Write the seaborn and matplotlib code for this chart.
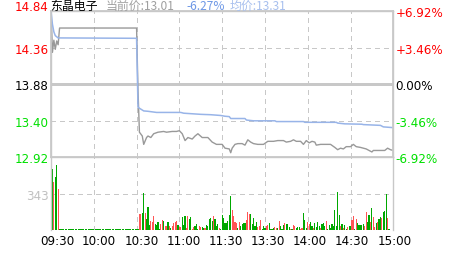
import matplotlib
matplotlib.use("Agg")
import matplotlib.pyplot as plt
import matplotlib.transforms as mtrans
import seaborn as sns

# ---------------- data ----------------
title_name = "东晶电子"
title_cur = "当前价:13.01"
title_pct = "-6.27%"
title_avg = "均价:13.31"

price_ticks = [12.92, 13.40, 13.88, 14.36, 14.84]
price_labels = ["12.92", "13.40", "13.88", "14.36", "14.84"]
pct_labels = ["-6.92%", "-3.46%", "0.00%", "+3.46%", "+6.92%"]
tick_colors = ["#00e000", "#00e000", "#000000", "#ff0000", "#ff0000"]

time_ticks = [0, 30, 60, 90, 120, 150, 180, 210, 240]
time_labels = ["09:30", "10:00", "10:30", "11:00", "11:30", "13:30", "14:00", "14:30", "15:00"]

price_min = [0, 1, 2, 3, 4, 5, 6, 60, 61, 62, 64, 65, 67, 68, 70, 72, 75, 79, 81, 85, 88, 90,
             92, 94, 96, 99, 101, 103, 106, 110, 113, 116, 120, 122, 125, 126, 127, 129, 131,
             134, 136, 138, 140, 142, 145, 149, 152, 156, 159, 163, 165, 168, 170, 172, 175,
             177, 179, 181, 183, 185, 186, 189, 192, 196, 199, 201, 203, 205, 207, 210, 212,
             214, 217, 219, 221, 223, 225, 226, 229, 232, 234, 236, 238, 240]
price_val = [14.84, 14.30, 14.46, 14.34, 14.45, 14.40, 14.62, 14.62, 13.80, 13.25, 13.20, 13.09,
             13.18, 13.20, 13.18, 13.23, 13.25, 13.26, 13.25, 13.26, 13.26, 13.27, 13.23, 13.14,
             13.18, 13.16, 13.20, 13.23, 13.18, 13.18, 13.12, 13.09, 13.09, 13.04, 13.03, 12.98,
             13.04, 13.09, 13.10, 13.10, 13.08, 13.15, 13.12, 13.10, 13.09, 13.09, 13.13, 13.13,
             13.14, 13.14, 13.12, 13.13, 13.15, 13.13, 13.13, 13.09, 13.14, 13.11, 13.13, 13.12,
             13.08, 13.09, 13.09, 13.09, 13.05, 13.02, 13.04, 13.03, 13.06, 13.06, 13.09, 13.06,
             13.05, 13.04, 13.03, 13.01, 12.99, 13.01, 13.01, 13.01, 13.01, 13.04, 13.02, 13.01]

avg_min = [0, 1, 2, 3, 5, 60, 61, 62, 65, 68, 74, 91, 93, 105, 112, 119, 122, 125, 126, 136,
           137, 142, 157, 158, 177, 178, 200, 201, 206, 218, 219, 231, 233, 240]
avg_val = [14.84, 14.67, 14.57, 14.52, 14.49, 14.485, 13.58, 13.565, 13.53, 13.525, 13.51, 13.51,
           13.50, 13.485, 13.48, 13.47, 13.46, 13.455, 13.43, 13.43, 13.41, 13.40, 13.40, 13.39,
           13.39, 13.38, 13.38, 13.37, 13.36, 13.355, 13.35, 13.34, 13.32, 13.31]

vol_open = [700, 576, 457, 504, 614, 388]
vol_halt = [10] * 56
vol_morning = [153, 153, 162, 350, 162, 106, 216, 50, 90, 81,
               134, 59, 50, 78, 12, 59, 100, 90, 43, 43,
               78, 37, 21, 37, 68, 78, 90, 50, 28, 28,
               122, 50, 131, 21, 131, 106, 125, 12, 34, 43,
               59, 12, 43, 28, 28, 25, 18, 50, 37, 106,
               115, 90, 134, 106, 43, 56, 25, 12, 144, 115,
               68, 68, 90, 144, 322, 191, 137, 81, 68, 21,
               78, 43, 59, 68, 68, 97, 172, 153, 156, 59,
               115, 37, 81, 28, 37]
vol_afternoon = [97, 12, 37, 18, 37, 50, 68, 12, 12, 18,
                 28, 21, 25, 87, 37, 12, 50, 68, 56, 59,
                 28, 12, 12, 50, 37, 25, 28, 28, 12, 18,
                 162, 97, 18, 75, 59, 81, 37, 21, 68, 28,
                 75, 37, 21, 59, 68, 37, 87, 12, 50, 18,
                 59, 43, 194, 37, 363, 144, 37, 59, 18, 50,
                 12, 28, 43, 43, 100, 137, 12, 106, 68, 50,
                 50, 50, 59, 43, 172, 81, 144, 78, 209, 122,
                 28, 68, 81, 106, 122, 115, 169, 181, 344, 112,
                 12, 6, 3, 209]
col_open = "kgrggr"
col_halt = "g" * 56
col_morning = ("rrggrgggrr" "rggggrrgrr" "grgrrrrgrr" "gggrrggrrg" "ggrrggrggg"
               "ggrgggrggg" "gggggrrrrg" "rggggrrrgg" "gggrr")
col_afternoon = ("rgggrrgggg" "rrgrgggrgg" "grgrrgggrr" "gggrrggrgg" "ggrgggrggg"
                 "ggggggrgrg" "grggrrgrgg" "gggrrggrgr" "rgrggrgggr" "gggg")

volume = vol_open + vol_halt + vol_morning + vol_afternoon
vol_colors = col_open + col_halt + col_morning + col_afternoon
minutes = list(range(len(volume)))
vol_ticks = [343]
vol_max = 686

# ---------------- style ----------------
sns.set_theme(style="white")
plt.rcParams["font.family"] = ["DejaVu Sans"]
FS = 8.6
GRID = "#c8c8c8"
color_map = {"r": "#ff5555", "g": "#00a800", "k": "#000000"}

W, H = 463, 255
fig = plt.figure(figsize=(W / 100, H / 100), dpi=100)
fig.patch.set_facecolor("white")
L, R = 51, 393.3
top_p, bot_p, bot_v = 12.3, 158.3, 231.3
ax = fig.add_axes([L / W, 1 - bot_p / H, (R - L) / W, (bot_p - top_p) / H])
axv = fig.add_axes([L / W, 1 - bot_v / H, (R - L) / W, (bot_v - bot_p) / H])

for a in (ax, axv):
    a.set_facecolor("white")
    a.set_xlim(0, 240)
    for s in a.spines.values():
        s.set_color(GRID)
        s.set_linewidth(1)
    for t in time_ticks[1:-1]:
        a.axvline(t, color=GRID, lw=1, ls=(0, (3, 3)), zorder=0, antialiased=False)

# price panel
ax.set_ylim(price_ticks[0], price_ticks[-1])
for v, lbl in zip(price_ticks[1:-1], price_labels[1:-1]):
    ax.axhline(v, color=GRID, lw=1, ls="-" if lbl == "13.88" else (0, (3, 3)), zorder=0,
               antialiased=False)
sns.lineplot(x=price_min, y=price_val, ax=ax, color="#999999", lw=1, estimator=None, zorder=3)
sns.lineplot(x=avg_min, y=avg_val, ax=ax, color="#98b4e8", lw=1.1, estimator=None, zorder=4)
ax.set_xticks([])
ax.set_xlabel("")
ax.set_ylabel("")
ax.set_yticks(price_ticks)
ax.set_yticklabels(price_labels)
ax.tick_params(axis="y", length=0, pad=1.5, labelsize=FS)
for lab, c in zip(ax.get_yticklabels(), tick_colors):
    lab.set_color(c)
top_lab = ax.get_yticklabels()[-1]
top_lab.set_transform(top_lab.get_transform() +
                      mtrans.ScaledTranslation(0, 6.5 / 100, fig.dpi_scale_trans))

axr = ax.twinx()
axr.set_ylim(price_ticks[0], price_ticks[-1])
axr.set_yticks(price_ticks)
axr.set_yticklabels(pct_labels)
axr.tick_params(axis="y", length=0, pad=1.5, labelsize=FS)
for lab, c in zip(axr.get_yticklabels(), tick_colors):
    lab.set_color(c)
for s in axr.spines.values():
    s.set_color(GRID)
axr.grid(False)

# volume panel
axv.set_ylim(0, vol_max)
axv.axhline(vol_ticks[0], color=GRID, lw=1, ls=(0, (3, 3)), zorder=0, antialiased=False)
axv.bar(minutes, volume, width=0.8, color=[color_map[c] for c in vol_colors], linewidth=0,
        zorder=2, antialiased=False)
axv.spines["bottom"].set_visible(False)
axv.set_yticks(vol_ticks)
axv.set_yticklabels([str(v) for v in vol_ticks])
axv.tick_params(axis="y", length=0, pad=1.5, labelsize=FS, labelcolor="#c0c0c0")
axv.set_xticks(time_ticks)
axv.set_xticklabels(time_labels)
axv.tick_params(axis="x", length=0, pad=3, labelsize=FS, labelcolor="#000000")
for i, lab in enumerate(axv.get_xticklabels()):
    dx = (6 - 0.625 * i) / 100
    lab.set_transform(lab.get_transform() + mtrans.ScaledTranslation(dx, 0, fig.dpi_scale_trans))

# title
cjk = ["Noto Sans CJK SC", "DejaVu Sans"]
ty = 1 - 6.5 / H
fig.text(50 / W, ty, title_name, color="#000000", fontsize=FS, family=cjk, va="center", ha="left")
fig.text(106 / W, ty, title_cur, color="#a0a0a0", fontsize=FS, family=cjk, va="center", ha="left")
fig.text(186 / W, ty, title_pct, color="#6e98e6", fontsize=FS, family=cjk, va="center", ha="left")
fig.text(230 / W, ty, title_avg, color="#a8c0ee", fontsize=FS, family=cjk, va="center", ha="left")

fig.savefig("out.png", dpi=100, facecolor="white")
